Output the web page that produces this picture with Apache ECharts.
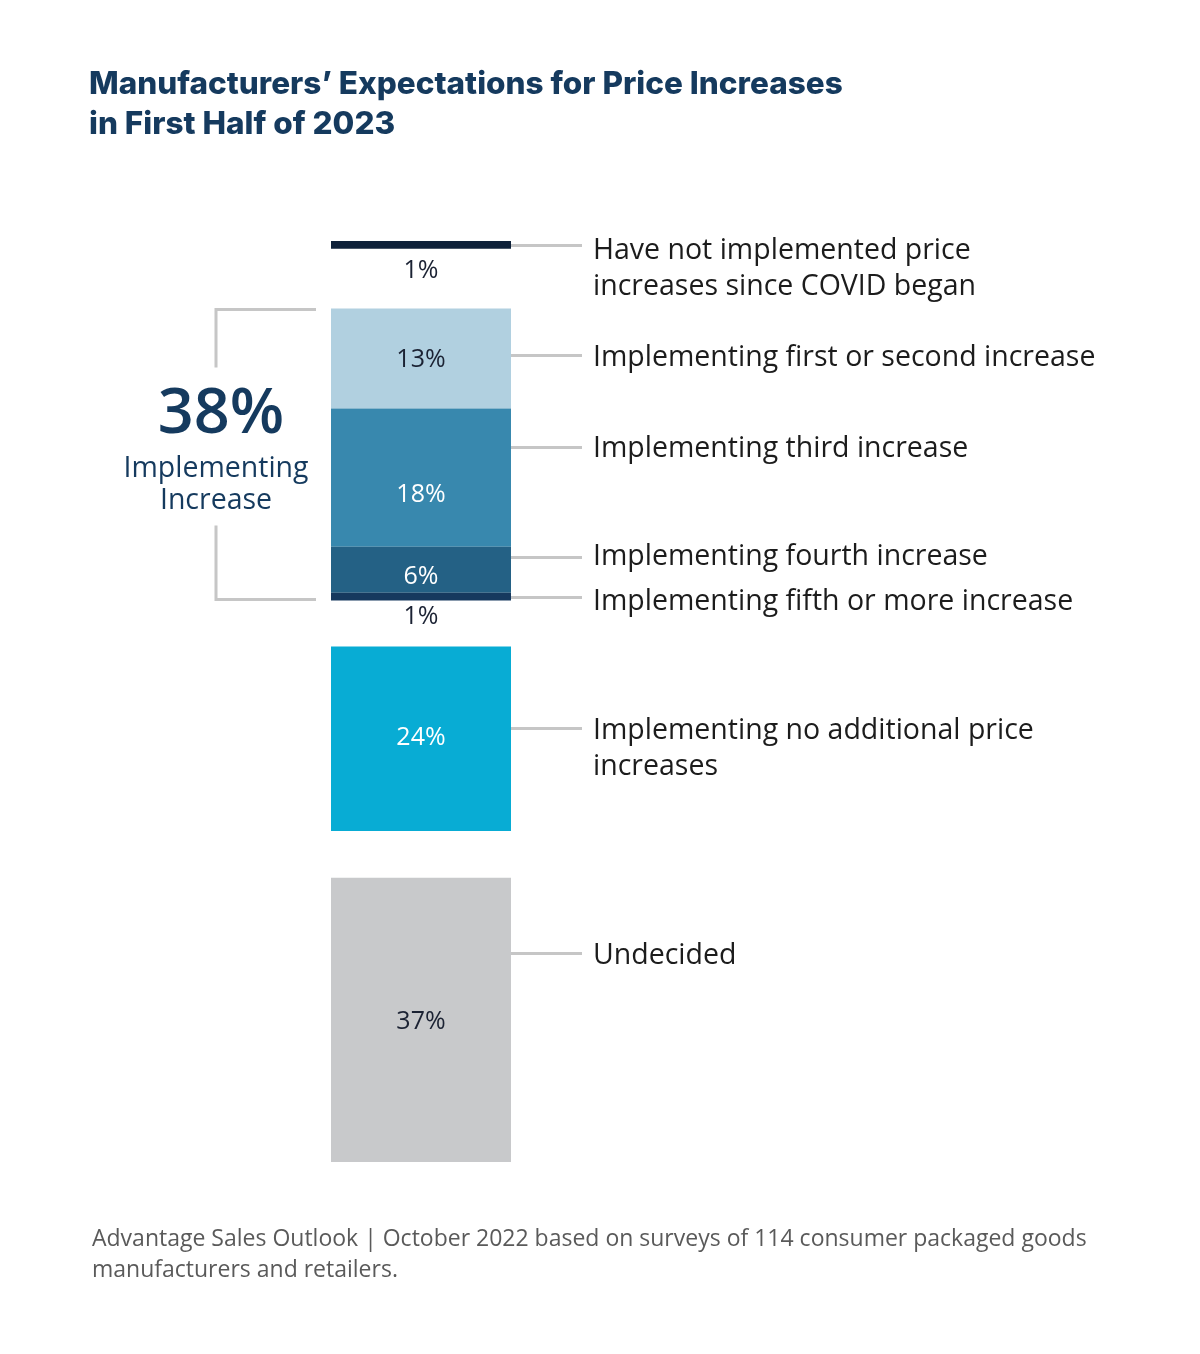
<!DOCTYPE html>
<html>
<head>
<meta charset="utf-8">
<script src="https://cdn.jsdelivr.net/npm/echarts@6/dist/echarts.min.js"></script>
<style>html,body{margin:0;padding:0;background:#fff;}#c{width:1200px;height:1354px;}</style>
</head>
<body>
<div id="c"></div>
<script>
// ---- data ----
const categories = ['Manufacturers'];
const segNames = [
  'Have not implemented price\nincreases since COVID began',
  'Implementing first or second increase',
  'Implementing third increase',
  'Implementing fourth increase',
  'Implementing fifth or more increase',
  'Implementing no additional price\nincreases',
  'Undecided'
];
const segValues = [1, 13, 18, 6, 1, 24, 37];
const segLabels = ['1%', '13%', '18%', '6%', '1%', '24%', '37%'];
const groupTotalLabel = '38%';
const groupTotalText = 'Implementing\nIncrease';
// blank spaces between groups (axis units), placed after segment index
const gapAfter = [0, 4, 5];
const gapValues = [7.8, 6.0, 6.1];
// where each leader line meets the bar (axis units)
const leaderAt = [0.5, 14.8, 26.8, 41.1, 46.3, 63.4, 92.7];

// ---- styles ----
const segColors = ['#0e2139', '#b1d0e0', '#3888ae', '#246185', '#16395e', '#08acd4', '#c8c9cb'];
const labelColors = ['#1b2233', '#1b2233', '#ffffff', '#ffffff', '#1b2233', '#ffffff', '#1b2233'];
const labelPos = ['bottom', 'inside', 'inside', 'inside', 'bottom', 'inside', 'inside'];
const labelOffset = [[0, 8], [0, 1], [0, 17], [0, 7], [0, 2], [0, -1], [0, 2]];
const textOffset = [5, 2, 1, -1, 4, 2, 2];
const FONT = '"Open Sans", Lato, sans-serif';
const BAR_W = 180;

const total = segValues.reduce((a, b) => a + b, 0) + gapValues.reduce((a, b) => a + b, 0);

const series = [];
segValues.forEach((v, i) => {
  series.push({
    type: 'bar', stack: 'all', name: 's' + i, data: [v],
    barWidth: BAR_W, itemStyle: { color: segColors[i] },
    silent: true,
    label: {
      show: true, position: labelPos[i], distance: 2, offset: labelOffset[i],
      formatter: segLabels[i], color: labelColors[i],
      fontFamily: FONT, fontSize: 25, fontWeight: 400
    }
  });
  const g = gapAfter.indexOf(i);
  if (g >= 0) {
    series.push({
      type: 'bar', stack: 'all', name: 'gap' + g, data: [gapValues[g]],
      barWidth: BAR_W, itemStyle: { color: 'rgba(0,0,0,0)' }, silent: true
    });
  }
});

const chart = echarts.init(document.getElementById('c'), null, { renderer: 'canvas' });
chart.setOption({
  backgroundColor: '#ffffff',
  animation: false,
  title: [{
    text: 'Manufacturers\u2019 Expectations for Price Increases\nin First Half of 2023',
    left: 89, top: 65, padding: 0,
    textStyle: { fontFamily: 'Inter, Lato, sans-serif', fontWeight: 800, fontSize: 31.5, lineHeight: 40, color: '#153a5e' }
  }, {
    text: 'Advantage Sales Outlook | October 2022 based on surveys of 114 consumer packaged goods\nmanufacturers and retailers.',
    left: 92, top: 1224, padding: 0,
    textStyle: { fontFamily: FONT, fontWeight: 400, fontSize: 23, lineHeight: 31, color: '#5a5a5a' }
  }],
  grid: { left: 331, width: BAR_W, top: 241, height: 921, containLabel: false },
  xAxis: { type: 'category', data: categories, show: false },
  yAxis: { type: 'value', inverse: true, min: 0, max: total, show: false },
  series: series
});

// leader lines, labels and bracket from axis coordinates
const els = [];
const xCenter = chart.convertToPixel({ xAxisIndex: 0 }, categories[0]);
const barRight = xCenter + BAR_W / 2;
const barLeft = xCenter - BAR_W / 2;
const yPx = v => chart.convertToPixel({ yAxisIndex: 0 }, v);
leaderAt.forEach((v, i) => {
  const y = Math.round(yPx(v)) + 0.5;
  els.push({ type: 'line', shape: { x1: barRight, y1: y, x2: barRight + 71, y2: y },
    style: { stroke: '#c6c6c6', lineWidth: 3 }, silent: true });
  els.push({ type: 'text', x: barRight + 82, y: y - 18 + textOffset[i],
    style: { text: segNames[i], fontFamily: FONT, fontSize: 28.5, lineHeight: 36,
      fill: '#1c1c1c', textVerticalAlign: 'top' }, silent: true });
});
// bracket around implementing group (segments 1..4)
let cum = 0; const starts = [];
segValues.forEach((v, i) => { starts.push(cum); cum += v; const g = gapAfter.indexOf(i); if (g >= 0) cum += gapValues[g]; });
const gTop = Math.round(yPx(starts[1])) + 0.5;
const gBot = Math.round(yPx(starts[4] + segValues[4])) - 0.5;
const bx = barLeft - 115;
const bStroke = { stroke: '#c6c6c6', lineWidth: 3, fill: null };
els.push({ type: 'polyline', shape: { points: [[barLeft - 15, gTop], [bx, gTop], [bx, gTop + 58]] }, style: bStroke, silent: true });
els.push({ type: 'polyline', shape: { points: [[bx, gBot - 74], [bx, gBot], [barLeft - 15, gBot]] }, style: bStroke, silent: true });
els.push({ type: 'text', x: bx + 5, y: gTop + 106,
  style: { text: groupTotalLabel, fontFamily: FONT, fontSize: 63, fontWeight: 600, fill: '#153a5e', align: 'center', verticalAlign: 'middle' }, silent: true });
els.push({ type: 'text', x: bx, y: gTop + 175,
  style: { text: groupTotalText, fontFamily: FONT, fontSize: 28.5, lineHeight: 32, fill: '#153a5e', align: 'center', verticalAlign: 'middle' }, silent: true });
chart.setOption({ graphic: { elements: els } });
</script>
</body>
</html>
